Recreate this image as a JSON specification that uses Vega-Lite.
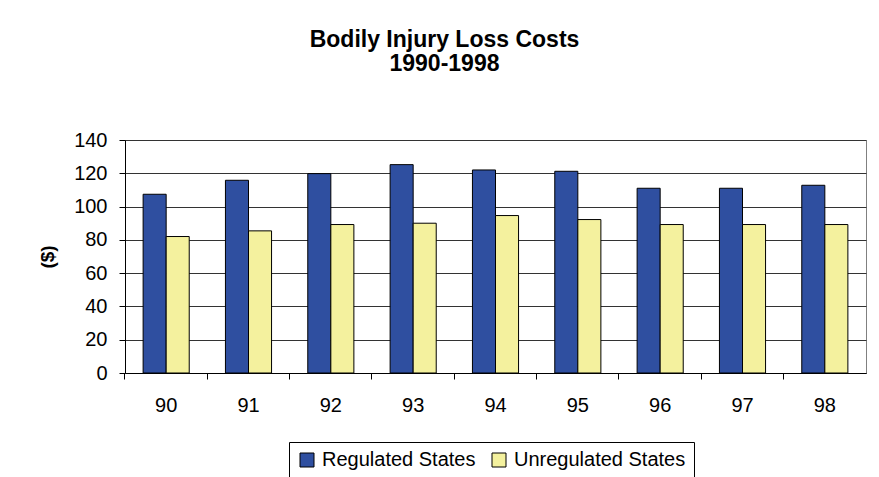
{
  "$schema": "https://vega.github.io/schema/vega-lite/v6.json",
  "width": 741,
  "height": 233,
  "autosize": {"type": "none"},
  "padding": {"left": 125, "top": 140, "right": 13, "bottom": 104},
  "background": "white",
  "title": {
    "text": ["Bodily Injury Loss Costs", "1990-1998"],
    "font": "Liberation Sans",
    "fontSize": 23,
    "fontWeight": "bold",
    "lineHeight": 24,
    "anchor": "middle",
    "frame": "group",
    "dx": -51,
    "offset": 54,
    "color": "black"
  },
  "data": {
    "values": [
      {"year": "90", "series": "Regulated States", "cost": 107.4},
      {"year": "90", "series": "Unregulated States", "cost": 82.0},
      {"year": "91", "series": "Regulated States", "cost": 115.8},
      {"year": "91", "series": "Unregulated States", "cost": 85.4},
      {"year": "92", "series": "Regulated States", "cost": 119.8},
      {"year": "92", "series": "Unregulated States", "cost": 89.2},
      {"year": "93", "series": "Regulated States", "cost": 125.2},
      {"year": "93", "series": "Unregulated States", "cost": 90.0},
      {"year": "94", "series": "Regulated States", "cost": 122.0},
      {"year": "94", "series": "Unregulated States", "cost": 94.6},
      {"year": "95", "series": "Regulated States", "cost": 121.2},
      {"year": "95", "series": "Unregulated States", "cost": 92.2},
      {"year": "96", "series": "Regulated States", "cost": 111.0},
      {"year": "96", "series": "Unregulated States", "cost": 89.2},
      {"year": "97", "series": "Regulated States", "cost": 111.0},
      {"year": "97", "series": "Unregulated States", "cost": 89.2},
      {"year": "98", "series": "Regulated States", "cost": 112.8},
      {"year": "98", "series": "Unregulated States", "cost": 89.2}
    ]
  },
  "mark": {"type": "bar", "stroke": "black", "strokeWidth": 1},
  "encoding": {
    "x": {
      "field": "year",
      "type": "ordinal",
      "scale": {"paddingInner": 0.44, "paddingOuter": 0.22},
      "axis": {
        "title": null,
        "labelAngle": 0,
        "labelFontSize": 20,
        "labelPadding": 16,
        "bandPosition": -0.393,
        "grid": false
      }
    },
    "xOffset": {
      "field": "series",
      "type": "nominal",
      "sort": ["Regulated States", "Unregulated States"],
      "scale": {"paddingInner": 0, "paddingOuter": 0}
    },
    "y": {
      "field": "cost",
      "type": "quantitative",
      "scale": {"domain": [0, 140], "nice": false},
      "axis": {
        "title": "($)",
        "values": [0, 20, 40, 60, 80, 100, 120, 140],
        "titleFontSize": 19,
        "titleFontWeight": "bold",
        "titlePadding": 16,
        "labelFontSize": 20,
        "labelPadding": 12,
        "grid": true,
        "gridColor": "#333333",
        "gridOpacity": 1
      }
    },
    "color": {
      "field": "series",
      "type": "nominal",
      "scale": {
        "domain": ["Regulated States", "Unregulated States"],
        "range": ["#2F4FA0", "#F4F19E"]
      },
      "legend": {
        "title": null,
        "orient": "none",
        "legendX": 164,
        "legendY": 302,
        "direction": "horizontal",
        "strokeColor": "black",
        "padding": 8,
        "symbolType": "square",
        "symbolSize": 196,
        "symbolStrokeColor": "black",
        "symbolStrokeWidth": 1,
        "symbolOpacity": 1,
        "labelFontSize": 20,
        "labelFont": "Liberation Sans",
        "labelColor": "black",
        "labelLimit": 300,
        "columnPadding": 13,
        "labelOffset": 5
      }
    }
  },
  "config": {
    "view": {"stroke": "#808080", "strokeWidth": 1},
    "font": "Liberation Sans",
    "axis": {
      "labelFont": "Liberation Sans",
      "titleFont": "Liberation Sans",
      "labelColor": "black",
      "titleColor": "black",
      "domainColor": "black",
      "tickColor": "black",
      "tickSize": 6,
      "domainWidth": 1,
      "tickWidth": 1
    }
  }
}
